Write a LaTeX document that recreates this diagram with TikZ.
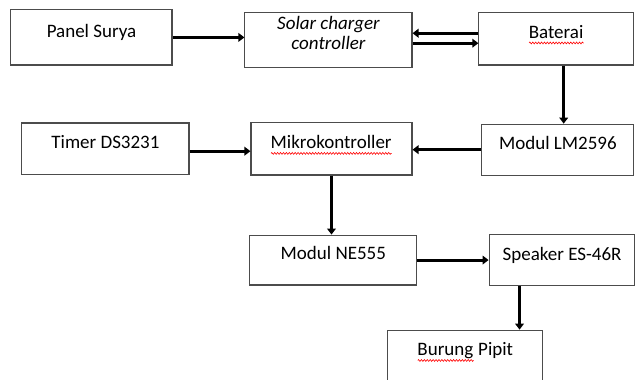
\documentclass[tikz,border=0pt]{standalone}
\usepackage{fontspec}
\setmainfont{Carlito}
\usepackage{tikz}
\usetikzlibrary{arrows.meta, positioning, calc, decorations.pathmorphing}

% red wavy underline (spell check mark)
\newsavebox{\spellbox}
\newcommand{\spellmark}[1]{\sbox{\spellbox}{#1}\rlap{\usebox{\spellbox}}\tikz[baseline=0pt]\draw[red, line width=0.45pt, decorate, decoration={zigzag, segment length=2.2pt, amplitude=0.7pt}] (0pt,-3.4pt) -- (\wd\spellbox,-3.4pt);}

\begin{document}
\begin{tikzpicture}[
    font=\fontsize{14.3}{15}\selectfont,
    >={Triangle[length=4.5pt, width=6.5pt]},
    block/.style={draw=black!70, line width=0.8pt, fill=white, align=center, text depth=10pt},
    arrow/.style={->, line width=2.3pt, black}
]

\clip (0,0) rectangle (16.80,-10.03);

% Nodes
\node[block, minimum width=4.26cm, minimum height=1.46cm] (panel) at (2.42,-0.99) {Panel Surya};
\node[block, minimum width=4.42cm, minimum height=1.46cm] (solar) at (8.69,-1.05) {\itshape Solar charger\\\itshape controller};
\node[block, minimum width=4.10cm, minimum height=1.40cm] (baterai) at (14.72,-1.02) {\spellmark{Baterai}};

\node[block, minimum width=4.42cm, minimum height=1.35cm] (timer) at (2.79,-3.93) {Timer DS3231};
\node[block, minimum width=4.26cm, minimum height=1.38cm] (mikro) at (8.77,-3.94) {\spellmark{Mikrokontroller}};
\node[block, minimum width=4.02cm, minimum height=1.35cm] (lm) at (14.76,-3.96) {Modul LM2596};

\node[block, minimum width=4.42cm, minimum height=1.32cm] (ne555) at (8.82,-6.88) {Modul NE555};
\node[block, minimum width=3.86cm, minimum height=1.35cm] (speaker) at (14.87,-6.89) {Speaker ES-46R};

\node[block, minimum width=4.10cm, minimum height=1.37cm] (burung) at (12.31,-9.42) {\spellmark{Burung} Pipit};

% Top row
\draw[arrow] (panel.east) -- (panel.east -| solar.west);
\draw[arrow] ([yshift=4pt]baterai.west) -- ([yshift=4pt]baterai.west -| solar.east);
\draw[arrow] ([yshift=-3.5pt]baterai.west -| solar.east) -- ([yshift=-3.5pt]baterai.west);
\draw[arrow] ([xshift=5.5pt]baterai.south) -- ([xshift=5.5pt]baterai.south |- lm.north);

% Middle row
\draw[arrow] (lm.west) -- (lm.west -| mikro.east);
\draw[arrow] ([yshift=-2pt]timer.east) -- ([yshift=-2pt]timer.east -| mikro.west);
\draw[arrow] (mikro.south) -- (mikro.south |- ne555.north);

% Bottom row
\draw[arrow] (ne555.east) -- (ne555.east -| speaker.west);
\draw[arrow] ([xshift=-32pt]speaker.south) -- ([xshift=-32pt]speaker.south |- burung.north);

\end{tikzpicture}
\end{document}
